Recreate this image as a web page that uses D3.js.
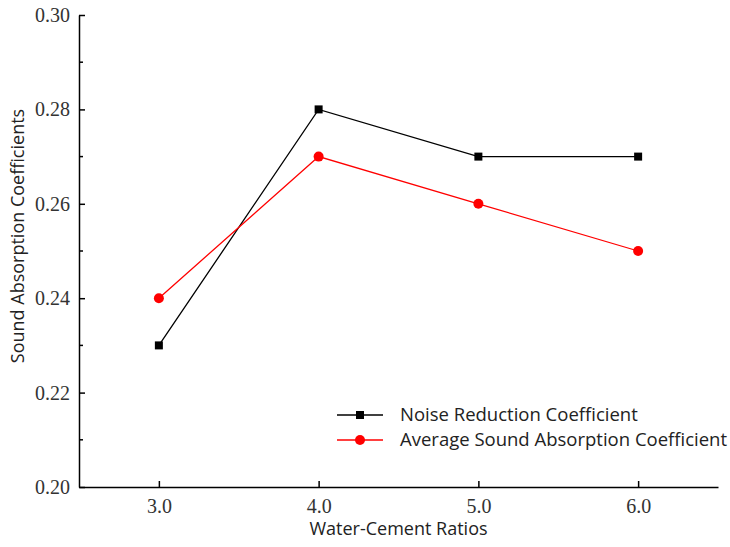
<!DOCTYPE html>
<html>
<head>
<meta charset="utf-8">
<script src="https://cdn.jsdelivr.net/npm/d3@7"></script>
<style>
  body { margin: 0; background: #fff; }
  .axis path, .axis line { stroke: #000; stroke-width: 1.5; }
  .title { font-family: "Open Sans", "Noto Sans", sans-serif; font-size: 18px; fill: #222; }
</style>
</head>
<body>
<svg id="chart" width="730" height="547"></svg>
<script>
var ratios = [3.0, 4.0, 5.0, 6.0];
var noiseReduction = [0.23, 0.28, 0.27, 0.27];
var avgAbsorption = [0.24, 0.27, 0.26, 0.25];
var yTicks = [0.20, 0.22, 0.24, 0.26, 0.28, 0.30];
var yMinor = [0.21, 0.23, 0.25, 0.27, 0.29];

var svg = d3.select("#chart"),
    margin = {top: 15, right: 12, bottom: 60, left: 79},
    w = +svg.attr("width") - margin.left - margin.right,
    h = +svg.attr("height") - margin.top - margin.bottom;

var x = d3.scaleLinear().domain([2.5, 6.5]).range([0, w]);
var y = d3.scaleLinear().domain([0.20, 0.30]).range([h, 0]);

var g = svg.append("g")
    .attr("transform", "translate(" + margin.left + "," + margin.top + ")");

var xAxis = g.append("g")
    .attr("class", "axis")
    .attr("transform", "translate(0," + h + ")")
    .call(d3.axisBottom(x).tickValues(ratios).tickFormat(d3.format(".1f"))
      .tickSizeInner(-6).tickSizeOuter(0).tickPadding(12));

var yAxis = g.append("g")
    .attr("class", "axis")
    .call(d3.axisLeft(y).tickValues(yTicks).tickFormat(d3.format(".2f"))
      .tickSizeInner(-6).tickSizeOuter(0).tickPadding(9));

g.selectAll(".axis text")
    .style("font-family", "'Liberation Serif', 'Times New Roman', serif")
    .style("font-size", "20px")
    .style("fill", "#333");

yAxis.selectAll(".minor")
    .data(yMinor)
  .enter().append("line")
    .attr("x1", 0).attr("x2", 4)
    .attr("y1", function(d) { return y(d); })
    .attr("y2", function(d) { return y(d); })
    .attr("stroke", "#000").attr("stroke-width", 1.5);

var series = [
  {name: "Noise Reduction Coefficient", values: noiseReduction, color: "#000", shape: "square"},
  {name: "Average Sound Absorption Coefficient", values: avgAbsorption, color: "#ff0000", shape: "circle"}
];

var line = d3.line()
    .x(function(d, i) { return x(ratios[i]); })
    .y(function(d) { return y(d); });

function marker(sel, s) {
  if (s.shape === "square") {
    sel.append("rect")
      .attr("x", -4).attr("y", -4).attr("width", 8).attr("height", 8)
      .attr("fill", s.color);
  } else {
    sel.append("circle").attr("r", 5).attr("fill", s.color);
  }
}

series.forEach(function(s) {
  g.append("path")
    .datum(s.values)
    .attr("fill", "none")
    .attr("stroke", s.color)
    .attr("stroke-width", 1.3)
    .attr("d", line);

  g.selectAll(".pt-" + s.shape)
      .data(s.values)
    .enter().append("g")
      .attr("class", "pt-" + s.shape)
      .attr("transform", function(d, i) { return "translate(" + x(ratios[i]) + "," + y(d) + ")"; })
      .each(function() { marker(d3.select(this), s); });
});

var legend = svg.append("g").attr("transform", "translate(337,415)");
series.forEach(function(s, i) {
  var row = legend.append("g").attr("transform", "translate(0," + (i * 25) + ")");
  row.append("line").attr("x1", 0).attr("x2", 46)
    .attr("stroke", s.color).attr("stroke-width", 1.3);
  var m = row.append("g").attr("transform", "translate(23,0)");
  marker(m, s);
  row.append("text").attr("class", "title")
    .attr("x", 63).attr("y", 0).attr("dy", "0.35em")
    .style("font-size", "18.5px")
    .text(s.name);
});

svg.append("text").attr("class", "title")
    .attr("x", margin.left + w / 2).attr("y", 535)
    .attr("text-anchor", "middle")
    .text("Water-Cement Ratios");

svg.append("text").attr("class", "title")
    .attr("transform", "translate(24," + 236 + ") rotate(-90)")
    .attr("text-anchor", "middle")
    .text("Sound Absorption Coefficients");
</script>
</body>
</html>
